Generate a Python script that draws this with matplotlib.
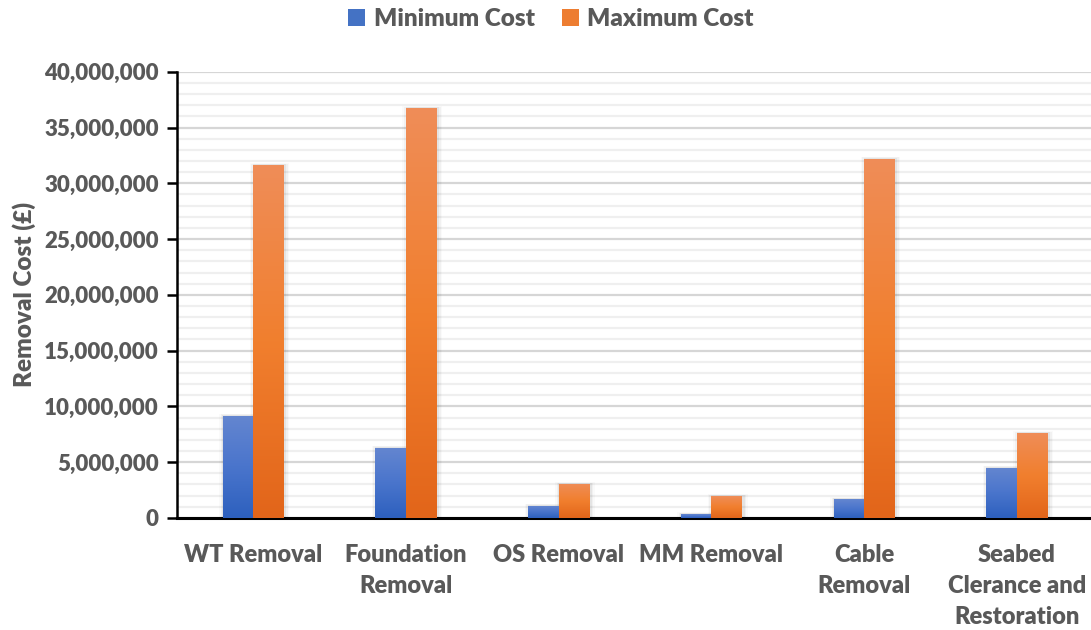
import numpy as np
import matplotlib
matplotlib.use("Agg")
import matplotlib.pyplot as plt
from matplotlib.patches import Patch, Rectangle
from matplotlib.ticker import MultipleLocator, FuncFormatter
from matplotlib.colors import LinearSegmentedColormap

categories = ["WT Removal", "Foundation\nRemoval", "OS Removal", "MM Removal",
              "Cable\nRemoval", "Seabed\nClerance and\nRestoration"]
min_cost = [9150000, 6300000, 1100000, 350000, 1700000, 4500000]
max_cost = [31650000, 36750000, 3050000, 1970000, 32200000, 7620000]

plt.rcParams['font.family'] = ['Lato', 'DejaVu Sans']
WT = 800
TXT = "#595959"

fig = plt.figure(figsize=(10.91, 6.3), dpi=100)
ax = fig.add_axes([0.162, 0.178, 0.84, 0.708])

x = np.arange(len(categories))
w = 0.2

blue_cmap = LinearSegmentedColormap.from_list("b", ["#2d60be", "#4a75cc", "#6486d0"])
orange_cmap = LinearSegmentedColormap.from_list("o", ["#e2651a", "#f17f2e", "#ef8d58"])

grad = np.linspace(0, 1, 256).reshape(-1, 1)


def gradient_bars(bars, cmap):
    for b in bars:
        bx, by = b.get_x(), b.get_y()
        bw, bh = b.get_width(), b.get_height()
        # soft shadow around the bar
        for k, a in enumerate([0.05, 0.035, 0.02]):
            pad = 0.01 * (k + 1)
            sh = Rectangle((bx - pad + 0.008, by), bw + 2 * pad, bh + 60000 * (k + 1),
                           facecolor="black", alpha=a, edgecolor="none", zorder=2)
            ax.add_patch(sh)
        im = ax.imshow(grad, cmap=cmap, aspect="auto", origin="lower",
                       extent=[bx, bx + bw, by, by + bh], zorder=3)
        im.set_clip_path(b)
        b.set_facecolor("none")


b1 = ax.bar(x - w / 2, min_cost, w, color="#4472c4", zorder=3, linewidth=0)
b2 = ax.bar(x + w / 2, max_cost, w, color="#ed7d31", zorder=3, linewidth=0)
gradient_bars(b1, blue_cmap)
gradient_bars(b2, orange_cmap)

ax.set_xlim(-0.5, 5.5)
ax.set_ylim(0, 40000000)
ax.yaxis.set_major_locator(MultipleLocator(5000000))
ax.yaxis.set_minor_locator(MultipleLocator(1000000))
ax.yaxis.set_major_formatter(FuncFormatter(lambda v, p: f"{int(v):,}"))
ax.grid(axis="y", which="major", color="#d6d6d6", linewidth=1.6, zorder=0)
ax.grid(axis="y", which="minor", color="#efefef", linewidth=1.6, zorder=0)
ax.set_axisbelow(True)

for s in ["top", "right"]:
    ax.spines[s].set_visible(False)
ax.spines["left"].set_linewidth(1.8)
ax.spines["bottom"].set_linewidth(2.2)
ax.tick_params(axis="y", which="major", length=7, width=1.8, labelsize=16,
               labelcolor=TXT, pad=6)
ax.tick_params(axis="y", which="minor", length=0)
ax.tick_params(axis="x", length=0, labelsize=17, labelcolor=TXT, pad=19)
ax.set_xticks(x)
ax.set_xticklabels(categories, linespacing=1.5, va="top", fontweight=WT)
for t in ax.get_yticklabels():
    t.set_fontweight(WT)

ax.set_ylabel("Removal Cost (£)", fontsize=17.5, color=TXT, labelpad=6, fontweight=WT)

handles = [Patch(facecolor="#4472c4"), Patch(facecolor="#ed7d31")]
leg = fig.legend(handles, ["Minimum Cost", "Maximum Cost"], loc="upper center",
                 bbox_to_anchor=(0.505, 1.022), ncol=2, frameon=False,
                 handlelength=0.7, handleheight=0.7, handletextpad=0.35, columnspacing=1.1,
                 labelcolor=TXT, prop={"weight": WT, "size": 17.5})

fig.savefig("out.png", dpi=100)
